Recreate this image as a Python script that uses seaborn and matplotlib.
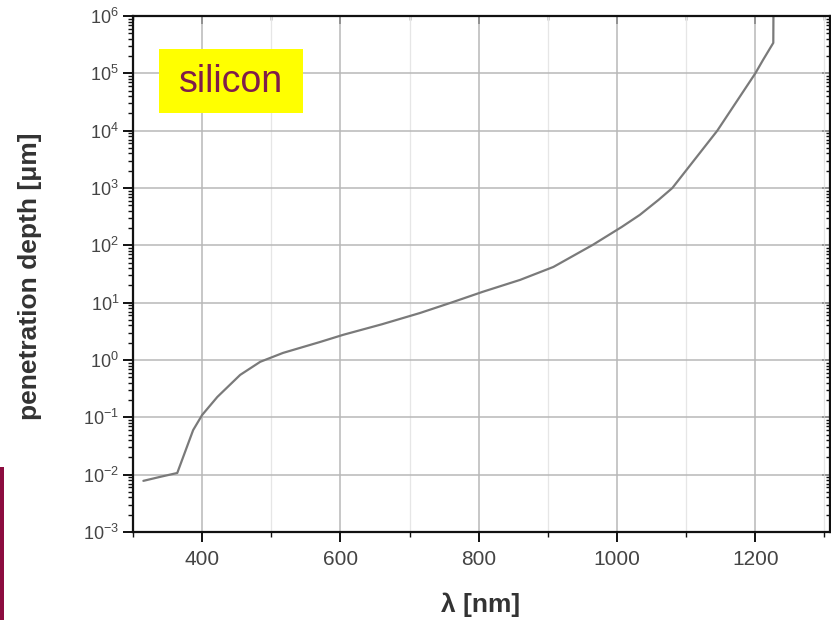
import matplotlib
matplotlib.use("Agg")
import matplotlib.pyplot as plt
import matplotlib.patches as mpatches
import numpy as np
import pandas as pd
import seaborn as sns
from matplotlib.ticker import LogLocator, MultipleLocator, NullFormatter

# penetration depth of light in silicon
wavelength_nm = [315, 340, 364, 387, 400, 422, 455, 484, 517, 571, 604, 660, 715,
                 760, 806, 860, 908, 965, 1007, 1033, 1060, 1080, 1145, 1200, 1211, 1226, 1227]
depth_um = [0.0078, 0.0092, 0.0107, 0.06, 0.11, 0.227, 0.55, 0.93, 1.33, 2.07, 2.75, 4.2, 6.6,
            10, 15.5, 25, 42, 102, 210, 340, 620, 1000, 1e4, 1e5, 1.7e5, 3.4e5, 1e8]

x_ticks = [400, 600, 800, 1000, 1200]
x_label = u'\u03bb [nm]'
y_label = u'penetration depth [\u03bcm]'
tag = 'silicon'

sns.set_theme(style="white")
plt.rcParams['font.family'] = ['Liberation Sans', 'DejaVu Sans']

df = pd.DataFrame({'wavelength': wavelength_nm, 'depth': depth_um})

W, H = 831, 620
fig = plt.figure(figsize=(W / 100, H / 100), dpi=100)
ax = fig.add_axes([133 / W, 1 - 532 / H, (830 - 133) / W, (532 - 16) / H])

sns.lineplot(data=df, x='wavelength', y='depth', ax=ax, color='#7a7a7a', linewidth=1.6)

ax.set_yscale('log')
ax.set_ylim(1e-3, 1e6)
ax.set_xlim(300, 1308)

ax.set_xticks(x_ticks)
ax.xaxis.set_minor_locator(MultipleLocator(100))
ax.yaxis.set_major_locator(LogLocator(base=10, numticks=12))
ax.yaxis.set_minor_locator(LogLocator(base=10, subs=np.arange(2, 10), numticks=12))
ax.yaxis.set_minor_formatter(NullFormatter())

ax.grid(which='major', color='#b8b8b8', linewidth=1.1)
ax.grid(which='minor', axis='x', color='#e6e6e6', linewidth=0.9)
ax.set_axisbelow(True)

for s in ax.spines.values():
    s.set_visible(True)
    s.set_color('#111111')
    s.set_linewidth(1.6)

ax.tick_params(which='major', direction='out', length=7, width=1.4, color='#111111',
               labelcolor='#444444', bottom=True, left=True)
ax.tick_params(which='minor', direction='out', length=3.5, width=1.0, color='#111111',
               bottom=True, left=True)
ax.tick_params(axis='x', which='major', labelsize=15, pad=6)
ax.tick_params(axis='y', which='major', labelsize=13, pad=3)

# inward ticks on top and right, like the original frame
top = ax.secondary_xaxis('top')
top.set_xticks(x_ticks)
top.xaxis.set_minor_locator(MultipleLocator(100))
top.tick_params(which='major', direction='in', length=6, width=1.4, color='#111111', labeltop=False)
top.tick_params(which='minor', direction='in', length=3, width=1.0, color='#111111')
right = ax.secondary_yaxis('right')
right.yaxis.set_major_locator(LogLocator(base=10, numticks=12))
right.yaxis.set_minor_locator(LogLocator(base=10, subs=np.arange(2, 10), numticks=12))
right.tick_params(which='major', direction='in', length=6, width=1.4, color='#111111', labelright=False)
right.tick_params(which='minor', direction='in', length=3, width=1.0, color='#111111', labelright=False)
for sec in (top, right):
    for s in sec.spines.values():
        s.set_visible(False)

ax.set_xlabel('')
ax.set_ylabel('')
fig.text(481 / W, 1 - 605 / H, x_label, ha='center', va='center',
         fontsize=19, fontweight='bold', color='#333333')
fig.text(30 / W, 1 - 276 / H, y_label, ha='center', va='center', rotation=90,
         fontsize=19, fontweight='bold', color='#333333')

# yellow tag box
fig.patches.append(mpatches.Rectangle((159 / W, 1 - 113 / H), 144 / W, 64 / H,
                                      transform=fig.transFigure, facecolor='#ffff00',
                                      edgecolor='none', zorder=5))
fig.text(231 / W, 1 - 82 / H, tag, ha='center', va='center', fontsize=27,
         color='#7f1d4a', zorder=6)

# dark red bar at the bottom-left edge
fig.patches.append(mpatches.Rectangle((0, 0), 4 / W, 153 / H, transform=fig.transFigure,
                                      facecolor='#8c0c3f', edgecolor='none'))

fig.savefig('out.png', dpi=100)
